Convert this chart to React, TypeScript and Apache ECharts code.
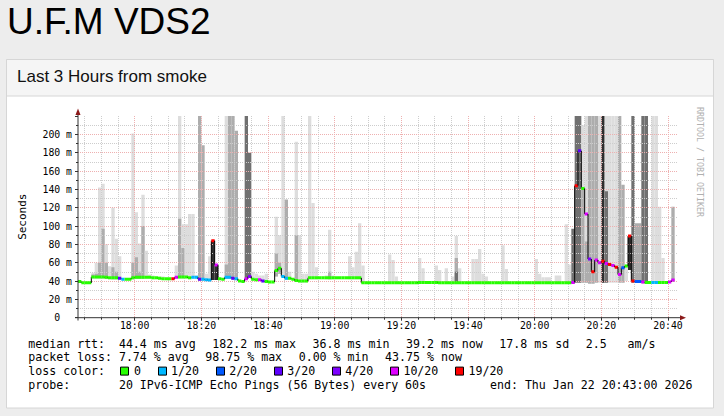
import { useEffect, useRef } from 'react';
import * as echarts from 'echarts';

// ---------- data ----------
const startMinute = 17 * 60 + 43; // 17:43, one step per minute, 180 steps
const timeCategories: string[] = Array.from({ length: 181 }, (_, j) => {
  const t = startMinute + j;
  return `${Math.floor(t / 60)}:${String(t % 60).padStart(2, '0')}`;
});

// median rtt (ms) per minute
const medianMs: (number | null)[] = [
  39.5, 38, 38, 38, 44.5, 44.5, 44.5, 44.5, 44, 43.5,
  43.5, 43.5, 43, 42, 42, 42, 43.5, 44, 44, 44,
  44, 44, 43.5, 43.5, 43, 42.5, 42.5, 42.5, 42.5, 44,
  44.5, 44.5, 44.5, 43.5, 44, 44, 42, 42, 41.5, 41,
  84, 57.5, 42.5, 42, 44, 44, 43, 42.5, 40, 39.5,
  42.5, 45, 42, 41.5, 41.5, 40, 39.5, 39, 39, 51.5,
  54, 45, 43, 43, 42, 40.5, 40, 40, 40, 43.5,
  43.5, 43.5, 43.5, 43.5, 43.5, 43.5, 43.5, 43.5, 43.5, 43.5,
  43.5, 43.5, 43.5, 43.5, 43.5, 38, 38, 38, 38, 38,
  38, 38, 38, 38, 38, 38, 38, 38, 38, 38,
  38, 38, 38.5, 38.5, 38.5, 38.5, 38.5, 38.5, 38, 38,
  38, 38, 38, 38, 38, 38, 38, 38, 38, 38,
  38, 38, 38, 38, 38, 38, 38, 38, 38, 38,
  38, 38, 38, 38, 38, 38, 38, 38, 38, 38,
  38, 38, 38, 38, 38, 38, 38, 38, 38.5, 144,
  182, 141, 113, 64, 50, 63, 60, 61.5, 59, 58,
  57, 55, 47, 54.5, 56.5, 89, 40, 39.5, 39.5, 39,
  38.5, 38.5, 38.5, 38.5, 38.5, 38.5, 38.5, 39, 41, null,
];

// lost pings (of 20) per minute
const lossCount: number[] = [
  0, 0, 0, 0, 0, 0, 0, 0, 0, 0,
  0, 0, 3, 1, 0, 0, 0, 0, 0, 0,
  0, 0, 0, 0, 0, 0, 0, 0, 19, 10,
  0, 0, 0, 0, 1, 1, 3, 1, 1, 1,
  19, 10, 0, 0, 1, 1, 3, 1, 0, 0,
  10, 4, 0, 0, 10, 3, 0, 0, 0, 0,
  0, 1, 1, 0, 0, 0, 0, 0, 0, 0,
  0, 0, 0, 0, 0, 0, 0, 0, 0, 0,
  0, 0, 0, 0, 0, 0, 0, 0, 0, 0,
  0, 0, 0, 0, 0, 0, 0, 0, 0, 0,
  0, 0, 0, 0, 0, 0, 0, 0, 0, 0,
  0, 0, 0, 0, 0, 0, 0, 0, 0, 0,
  0, 0, 0, 0, 0, 0, 0, 0, 0, 0,
  0, 0, 0, 0, 0, 0, 0, 0, 0, 0,
  0, 0, 0, 0, 0, 0, 0, 0, 10, 19,
  3, 0, 10, 4, 19, 10, 10, 19, 10, 19,
  10, 19, 10, 2, 0, 19, 19, 2, 2, 10,
  0, 0, 1, 1, 0, 0, 0, 10, 10, 0,
];

// smoke per minute: [minute, lowest ping, light top, mid top, dark top, black top] (0 = none)
const smokeBands: number[][] = [
  [4, 43, 49, 47, 0, 0], [5, 43, 60, 48, 0, 0], [6, 43, 142, 60, 0, 0], [7, 43, 146, 97, 0, 0],
  [8, 42.5, 80, 60, 0, 0], [9, 42, 56, 0, 0, 0], [10, 42, 120, 55, 0, 0], [11, 42, 86, 50, 0, 0],
  [12, 41.5, 67, 0, 0, 0], [16, 42, 201, 60, 0, 0], [17, 42.5, 115, 66, 0, 0], [18, 42.5, 81, 50, 0, 0],
  [19, 42.5, 134, 100, 0, 0], [20, 42.5, 73, 0, 0, 0], [21, 42.5, 47, 0, 0, 0], [22, 42, 46, 0, 0, 0],
  [24, 41.5, 45, 0, 0, 0], [25, 41, 45, 0, 0, 0], [29, 42.5, 57, 0, 0, 0], [30, 43, 220, 108, 0, 0],
  [31, 43, 102, 76, 0, 0], [32, 43, 102, 0, 0, 0], [33, 42, 113, 0, 0, 0], [34, 42.5, 113, 0, 0, 0],
  [35, 42.5, 46, 0, 0, 0], [36, 40.5, 0, 220, 0, 0], [37, 40.5, 0, 188, 0, 0], [38, 40, 48, 0, 0, 0],
  [39, 39.5, 67, 0, 0, 0], [40, 41, 0, 0, 0, 84], [41, 41, 0, 0, 0, 57.5], [44, 42.5, 220, 58, 0, 0],
  [45, 42.5, 220, 220, 0, 0], [46, 41.5, 0, 220, 0, 0], [47, 41, 0, 204, 0, 0], [50, 41, 0, 0, 220, 0],
  [51, 43.5, 0, 0, 180, 0], [52, 40.5, 50, 0, 0, 0], [53, 40, 48, 0, 0, 0], [54, 40, 46, 0, 0, 0],
  [55, 38.5, 46, 0, 0, 0], [56, 38, 48, 0, 0, 0], [59, 45, 110, 70, 0, 0], [60, 48, 90, 60, 0, 0],
  [61, 43.5, 220, 0, 0, 0], [62, 41.5, 0, 129, 0, 0], [63, 41.5, 50, 0, 0, 0], [65, 39, 192, 90, 0, 0],
  [66, 38.5, 90, 0, 0, 0], [67, 38.5, 48, 0, 0, 0], [68, 38.5, 48, 0, 0, 0], [69, 42, 220, 0, 0, 0],
  [70, 42, 125, 0, 0, 0], [71, 42, 55, 0, 0, 0], [74, 42, 46, 0, 0, 0], [75, 42, 96, 50, 0, 0],
  [76, 42, 46, 0, 0, 0], [81, 42, 67, 0, 0, 0], [82, 42, 55, 0, 0, 0], [83, 42, 72, 0, 0, 0],
  [84, 42, 103, 0, 0, 0], [85, 37, 57, 0, 0, 0], [93, 37, 69, 0, 0, 0], [94, 37, 63, 0, 0, 0],
  [95, 37, 45, 0, 0, 0], [102, 37, 65, 0, 0, 0], [103, 37, 54, 0, 0, 0], [107, 37, 57, 0, 0, 0],
  [108, 37, 52, 0, 0, 0], [110, 37, 54, 0, 0, 0], [112, 37, 45, 0, 0, 0], [113, 37, 89, 65, 50, 0],
  [114, 37, 54, 0, 0, 0], [118, 37, 64, 0, 0, 0], [119, 37, 64, 0, 0, 0], [120, 37, 75, 0, 0, 0],
  [121, 37, 48, 0, 0, 0], [122, 37, 45, 0, 0, 0], [127, 37, 79, 0, 0, 0], [128, 37, 53, 0, 0, 0],
  [137, 37, 64, 0, 0, 0], [138, 37, 48, 0, 0, 0], [139, 37, 44, 0, 0, 0], [140, 37, 44, 0, 0, 0],
  [141, 37, 44, 0, 0, 0], [143, 37, 46, 0, 0, 0], [144, 37, 46, 0, 0, 0], [146, 37, 102, 0, 0, 0],
  [147, 37, 58, 0, 0, 0], [148, 37, 0, 0, 97, 0], [149, 38, 0, 0, 220, 0], [150, 38, 210, 0, 220, 0],
  [151, 38, 210, 141, 0, 0], [152, 38, 220, 83, 0, 0], [153, 37, 0, 220, 0, 0], [154, 37, 0, 220, 0, 0],
  [155, 38, 0, 220, 0, 0], [156, 38, 220, 0, 0, 0], [157, 38, 0, 0, 0, 220], [158, 38, 220, 0, 138, 0],
  [159, 38, 220, 0, 0, 0], [160, 38, 220, 0, 0, 0], [161, 38, 220, 0, 0, 0], [162, 38, 0, 220, 0, 0],
  [163, 38, 0, 145, 0, 0], [164, 40, 58, 0, 0, 0], [165, 52, 0, 0, 0, 89], [166, 38, 0, 0, 220, 0],
  [167, 38, 0, 103, 0, 0], [168, 38, 0, 103, 0, 0], [169, 37.5, 0, 0, 220, 0], [170, 37.5, 0, 0, 220, 0],
  [172, 37.5, 220, 0, 0, 0], [173, 37.5, 220, 0, 0, 0], [174, 37.5, 121, 0, 0, 0], [175, 37.5, 65, 0, 0, 0],
  [178, 39, 0, 121, 0, 0],
];

const lossSteps = [0, 1, 2, 3, 4, 10, 19];
const lossLabels = ['0', '1/20', '2/20', '3/20', '4/20', '10/20', '19/20'];
const lossColors = ['#26ff00', '#00b8ff', '#0059ff', '#5e00ff', '#7e00ff', '#dd00ff', '#ff0000'];

const rttStats = ['44.4 ms avg', '182.2 ms max', '36.8 ms min', '39.2 ms now', '17.8 ms sd', '2.5'];
const rttUnit = 'am/s';
const lossStats = ['7.74 % avg', '98.75 % max', '0.00 % min', '43.75 % now'];
const probeText = '20 IPv6-ICMP Echo Pings (56 Bytes) every 60s';
const endText = 'end: Thu Jan 22 20:43:00 2026';

const pageTitle = 'U.F.M VDS2';
const panelTitle = 'Last 3 Hours from smoke';

// ---------- helpers ----------
const MONO = '"DejaVu Sans Mono", monospace';
const SANS = '"Liberation Sans", Arial, sans-serif';
const CW = 6.97; // mono char width at 11.6px
const GAP = 16.7;
const MAJOR_GRID = '#eeb0b0';
const MINOR_GRID = '#cdcdcd';

const lossColor = (n: number) => {
  let c = lossColors[0];
  lossSteps.forEach((s, k) => {
    if (n >= s) c = lossColors[k];
  });
  return c;
};
const minuteOf = (idx: number) => (startMinute + idx) % 60;
const isMajor = (idx: number) => minuteOf(idx) % 20 === 0;
const isMinorOnly = (idx: number) => minuteOf(idx) % 5 === 0 && !isMajor(idx);
const isMinor = (idx: number) => minuteOf(idx) % 5 === 0;

function legendGraphics(): any[] {
  const els: any[] = [];
  const x0 = 28.3;
  const rows = [343.5, 357.3, 371.1, 384.9];
  const txt = (text: string, x: number, y: number, align = 'left') => ({
    type: 'text',
    x,
    y,
    style: { text, fill: '#000', font: `11.6px ${MONO}`, align, verticalAlign: 'middle' },
  });
  const col13 = x0 + 13 * CW;
  // row 1
  els.push(txt('median rtt:', x0, rows[0]));
  let x = col13;
  rttStats.forEach((s) => {
    els.push(txt(s, x, rows[0]));
    x += s.length * CW + GAP;
  });
  els.push(txt(rttUnit, x - GAP - 3 * CW + 6 * CW, rows[0]));
  // row 2
  els.push(txt('packet loss:', x0, rows[1]));
  x = col13;
  lossStats.forEach((s) => {
    els.push(txt(s, x, rows[1]));
    x += s.length * CW + GAP;
  });
  // row 3
  els.push(txt('loss color:', x0, rows[2]));
  x = col13 + 1.5;
  lossLabels.forEach((lbl, k) => {
    els.push({
      type: 'rect',
      shape: { x: Math.round(x) + 0.5, y: rows[2] - 4, width: 8, height: 8 },
      style: { fill: lossColors[k], stroke: '#000', lineWidth: 1 },
    });
    els.push(txt(lbl, x + 13.5, rows[2]));
    x += 13.5 + lbl.length * CW + GAP;
  });
  // row 4
  els.push(txt('probe:', x0, rows[3]));
  els.push(txt(probeText, col13, rows[3]));
  els.push(txt(endText, 692.4, rows[3], 'right'));
  return els;
}

export default function App() {
  const ref = useRef<HTMLDivElement>(null);

  useEffect(() => {
    if (!ref.current) return;
    const chart = echarts.init(ref.current, undefined, { renderer: 'svg' });

    const medianData = medianMs
      .map((m, i) => (m == null ? null : [i, m, lossCount[i], i > 0 && medianMs[i - 1] != null ? (medianMs[i - 1] as number) : m]))
      .filter((d) => d != null);

    const shades = ['#dddddd', '#adadad', '#707070', '#2e2e2e'];

    const option: any = {
      animation: false,
      backgroundColor: '#ededed',
      grid: { left: 78, top: 116, width: 600, height: 201.7, containLabel: false },
      xAxis: [
        {
          type: 'category',
          data: timeCategories,
          boundaryGap: false,
          position: 'bottom',
          z: 3,
          axisLine: { show: false },
          axisTick: { show: true, interval: isMajor, length: 3, lineStyle: { color: '#333' } },
          axisLabel: {
            interval: isMajor,
            margin: 3,
            fontFamily: MONO,
            fontSize: 9.8,
            color: '#000',
          },
          splitLine: { show: true, interval: isMajor, lineStyle: { color: MAJOR_GRID, type: [1, 1], width: 1 } },
        },
        {
          type: 'category',
          data: timeCategories,
          boundaryGap: false,
          position: 'bottom',
          z: 2,
          axisLine: { show: false },
          axisLabel: { show: false },
          axisTick: { show: true, interval: isMinor, length: 2, lineStyle: { color: '#333' } },
          splitLine: { show: true, interval: isMinorOnly, lineStyle: { color: MINOR_GRID, type: [1, 1], width: 1 } },
        },
      ],
      yAxis: [
        {
          type: 'value',
          min: 0,
          max: 220,
          interval: 20,
          position: 'left',
          z: 3,
          axisLine: { show: false },
          axisTick: { show: true, length: 3, lineStyle: { color: '#333' } },
          axisLabel: {
            margin: 6,
            fontFamily: MONO,
            fontSize: 9.8,
            color: '#000',
            formatter: (v: number) => (v === 220 ? '' : v === 0 ? '0\u00a0\u00a0' : `${v} m`),
          },
          splitLine: {
            show: true,
            showMinLine: false,
            showMaxLine: false,
            lineStyle: { color: MAJOR_GRID, type: [1, 1], width: 1 },
          },
        },
        {
          type: 'value',
          min: 0,
          max: 220,
          interval: 10,
          position: 'left',
          z: 2,
          axisLine: { show: false },
          axisLabel: { show: false },
          axisTick: { show: true, length: 2, lineStyle: { color: '#333' } },
          splitLine: {
            show: true,
            showMinLine: false,
            showMaxLine: false,
            lineStyle: { color: MINOR_GRID, type: [1, 1], width: 1 },
          },
        },
      ],
      series: [
        {
          type: 'custom',
          name: 'smoke',
          xAxisIndex: 0,
          yAxisIndex: 0,
          z: 1,
          clip: true,
          silent: true,
          data: smokeBands,
          encode: { x: 0, y: [1, 2] },
          renderItem: (_params: any, api: any) => {
            const i = api.value(0) as number;
            const lo = api.value(1) as number;
            const children: any[] = [];
            for (let k = 0; k < 4; k++) {
              const top = api.value(2 + k) as number;
              if (!top) continue;
              const a = api.coord([i, top]);
              const b = api.coord([i + 1, lo]);
              children.push({
                type: 'rect',
                shape: { x: a[0], y: a[1], width: b[0] - a[0], height: b[1] - a[1] },
                style: { fill: shades[k] },
              });
            }
            return { type: 'group', children };
          },
        },
        {
          type: 'custom',
          name: 'median',
          xAxisIndex: 0,
          yAxisIndex: 0,
          z: 5,
          clip: true,
          silent: true,
          data: medianData,
          encode: { x: 0, y: 1 },
          renderItem: (_params: any, api: any) => {
            const i = api.value(0) as number;
            const m = api.value(1) as number;
            const loss = api.value(2) as number;
            const prev = api.value(3) as number;
            const p = api.coord([i, m]);
            const q = api.coord([i + 1, m]);
            const pp = api.coord([i, prev]);
            return {
              type: 'group',
              children: [
                {
                  type: 'line',
                  shape: { x1: p[0], y1: pp[1], x2: p[0], y2: p[1] },
                  style: { stroke: '#000', lineWidth: 1 },
                },
                {
                  type: 'rect',
                  shape: { x: p[0], y: p[1] - 1.5, width: q[0] - p[0], height: 3 },
                  style: { fill: lossColor(loss) },
                },
              ],
            };
          },
        },
      ],
      graphic: [
        // page + panel chrome
        {
          type: 'rect',
          z: -5,
          shape: { x: 6.5, y: 59.5, width: 707, height: 348.5 },
          style: { fill: '#ffffff', stroke: '#d6d6d6', lineWidth: 1 },
        },
        {
          type: 'rect',
          z: -4,
          shape: { x: 6.5, y: 59.5, width: 707, height: 36.5 },
          style: { fill: '#f5f5f5', stroke: '#d6d6d6', lineWidth: 1 },
        },
        {
          type: 'text',
          x: 7,
          y: 21,
          style: { text: pageTitle, font: `37px ${SANS}`, fill: '#000', align: 'left', verticalAlign: 'middle' },
        },
        {
          type: 'text',
          x: 17,
          y: 76,
          style: { text: panelTitle, font: `17px ${SANS}`, fill: '#111', align: 'left', verticalAlign: 'middle' },
        },
        // axis lines + arrows
        { type: 'line', z: 10, shape: { x1: 78, y1: 320.5, x2: 78, y2: 112 }, style: { stroke: '#333', lineWidth: 1 } },
        { type: 'line', z: 10, shape: { x1: 75, y1: 317.7, x2: 681, y2: 317.7 }, style: { stroke: '#333', lineWidth: 1 } },
        {
          type: 'polygon',
          z: 11,
          shape: { points: [[75.5, 115], [80.5, 115], [78, 108.5]] },
          style: { fill: '#8b1a1a' },
        },
        {
          type: 'polygon',
          z: 11,
          shape: { points: [[680, 315.2], [680, 320.2], [686, 317.7]] },
          style: { fill: '#8b1a1a' },
        },
        // y-axis title
        {
          type: 'text',
          x: 22.5,
          y: 216.7,
          rotation: Math.PI / 2,
          style: { text: 'Seconds', font: `11px ${MONO}`, fill: '#000', align: 'center', verticalAlign: 'middle' },
        },
        // watermark
        {
          type: 'text',
          x: 700,
          y: 107,
          rotation: -Math.PI / 2,
          style: { text: 'RRDTOOL / TOBI OETIKER', font: `8.3px ${MONO}`, fill: '#b0b0b0', align: 'left', verticalAlign: 'middle' },
        },
        ...legendGraphics(),
      ],
    };

    chart.setOption(option);
    return () => chart.dispose();
  }, []);

  return <div ref={ref} style={{ position: 'fixed', left: 0, top: 0, width: 724, height: 416 }} />;
}
